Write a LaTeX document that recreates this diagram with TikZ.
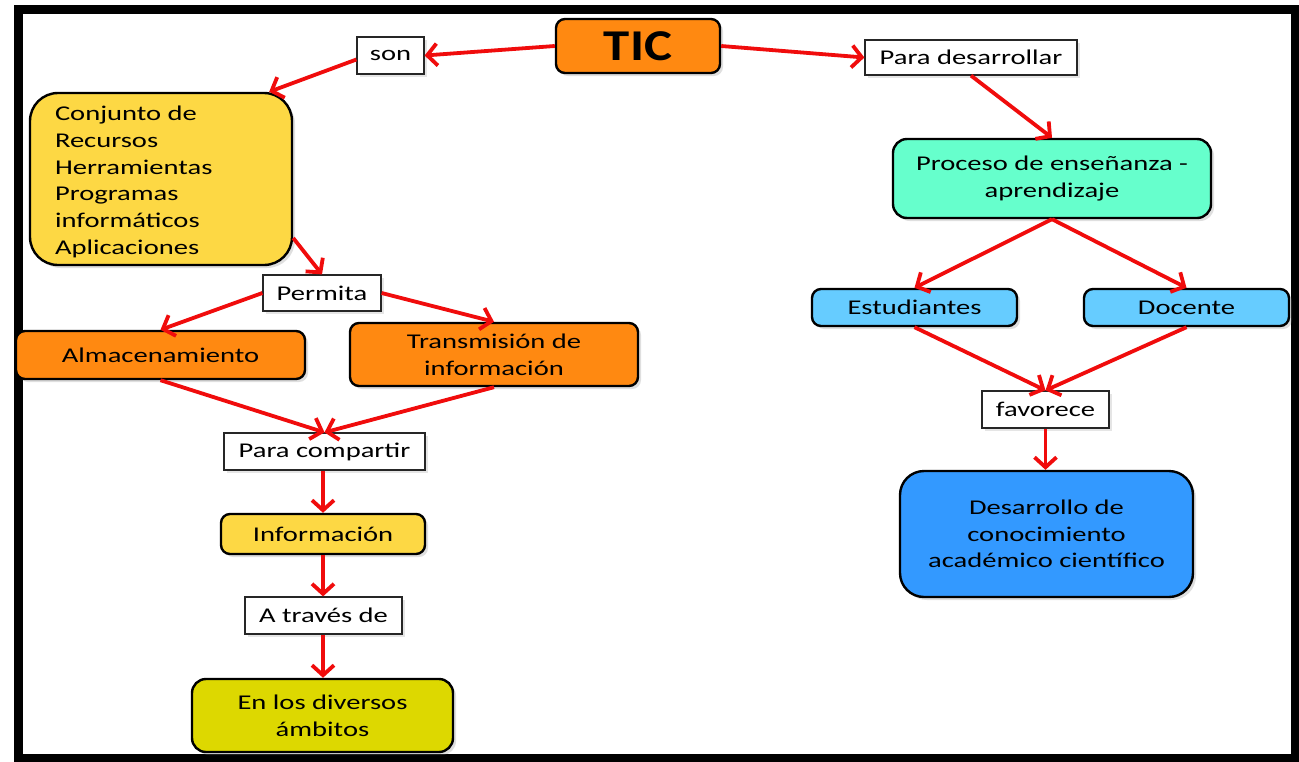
\documentclass[tikz,border=0pt]{standalone}
\usepackage{fontspec}
\setmainfont{Carlito}[FakeStretch=1.36]
\newfontfamily\ticfont{Carlito}[FakeStretch=1.2]
\usetikzlibrary{arrows.meta,shadows}
\definecolor{orng}{RGB}{255,137,17}
\definecolor{ylw}{RGB}{253,216,68}
\definecolor{olv}{RGB}{221,216,0}
\definecolor{aqua}{RGB}{102,255,204}
\definecolor{lblue}{RGB}{102,204,255}
\definecolor{dblue}{RGB}{51,153,255}
\definecolor{arrred}{RGB}{240,12,12}
\tikzset{
  concept/.style={draw=black, line width=2.4pt, rounded corners=9pt, align=center,
    inner sep=0pt, font=\fontsize{21}{26.7}\selectfont,
    drop shadow={opacity=0.25, shadow xshift=3pt, shadow yshift=-3pt}},
  linkbox/.style={draw=black!85, line width=1.2pt, fill=white, align=center,
    inner sep=0pt, font=\fontsize{21}{26.7}\selectfont,
    drop shadow={opacity=0.2, shadow xshift=3pt, shadow yshift=-3pt}},
  arr/.style={draw=arrred, line width=3.8pt, -{Straight Barb[length=10pt,width=22pt]}}
}
\begin{document}
\begin{tikzpicture}[x=1pt,y=-1pt]
\useasboundingbox (0,0) rectangle (1299,761);
\fill[white] (0,0) rectangle (1299,761);
\begin{scope}
\clip (0,0) rectangle (1299,761);
\draw[line width=9pt] (18,9) rectangle (1295,758);
\end{scope}

% concept nodes
\node[concept, fill=orng, minimum width=164pt, minimum height=54pt, font=\fontsize{44}{50}\selectfont\ticfont\bfseries] (tic) at (638,46) {TIC};
\node[concept, fill=ylw, rounded corners=28pt, inner xsep=25pt, inner ysep=0pt] (conj) at (161,179)
  {\parbox[c][172pt][c]{212pt}{\raggedright\vspace*{6pt}Conjunto de\\Recursos\\Herramientas\\Programas\\informáticos\\Aplicaciones}};
\node[concept, fill=orng, minimum width=289pt, minimum height=48pt] (alm) at (160.5,355) {Almacenamiento};
\node[concept, fill=orng, minimum width=288pt, minimum height=63pt] (trans) at (494,354.5) {Transmisión de\\información};
\node[concept, fill=ylw, minimum width=204pt, minimum height=40pt] (info) at (323,534) {Información};
\node[concept, fill=olv, minimum width=261pt, minimum height=73pt, rounded corners=14pt] (amb) at (322.5,715.5) {En los diversos\\ámbitos};
\node[concept, fill=aqua, minimum width=318pt, minimum height=79pt, rounded corners=14pt] (proc) at (1052,178.5) {Proceso de enseñanza -\\aprendizaje};
\node[concept, fill=lblue, minimum width=205pt, minimum height=37pt] (est) at (914.5,307.5) {Estudiantes};
\node[concept, fill=lblue, minimum width=205pt, minimum height=37pt] (doc) at (1186.5,307.5) {Docente};
\node[concept, fill=dblue, minimum width=293pt, minimum height=126pt, rounded corners=24pt] (des) at (1046.5,534) {Desarrollo de\\conocimiento\\académico científico};

% linking phrases
\node[linkbox, minimum width=67pt, minimum height=37pt] (son) at (390.5,55.5) {son};
\node[linkbox, minimum width=212pt, minimum height=35pt] (pd) at (971,57.5) {Para desarrollar};
\node[linkbox, minimum width=118pt, minimum height=36pt] (perm) at (322,293) {Permita};
\node[linkbox, minimum width=201pt, minimum height=37pt] (pc) at (324.5,451.5) {Para compartir};
\node[linkbox, minimum width=157pt, minimum height=37pt] (atr) at (323.5,615.5) {A través de};
\node[linkbox, minimum width=127pt, minimum height=37pt] (fav) at (1045.5,409.5) {favorece};

% connectors
\draw[arr] (tic.west) -- (son.east);
\draw[arr] ([yshift=-4pt]son.west) -- ([xshift=-24pt]conj.north east);
\draw[arr] (tic.east) -- (pd.west);
\draw[arr] (pd.south) -- (proc.north);
\draw[arr] ([yshift=-59pt]conj.east) -- (perm.north);
\draw[arr] (perm.west) -- (alm.north);
\draw[arr] (perm.east) -- (trans.north);
\draw[arr] (alm.south) -- (pc.north);
\draw[arr] (trans.south) -- (pc.north);
\draw[arr] ([xshift=-1.5pt]pc.south) -- ([xshift=-1.5pt]pc.south |- info.north);
\draw[arr] (info.south) -- (info.south |- atr.north);
\draw[arr] ([xshift=-0.5pt]atr.south) -- ([xshift=-0.5pt]atr.south |- amb.north);
\draw[arr] (proc.south) -- (est.north);
\draw[arr] (proc.south) -- (doc.north);
\draw[arr] (est.south) -- (fav.north);
\draw[arr] (doc.south) -- (fav.north);
\draw[arr] (fav.south) -- (fav.south |- des.north);
\end{tikzpicture}
\end{document}
